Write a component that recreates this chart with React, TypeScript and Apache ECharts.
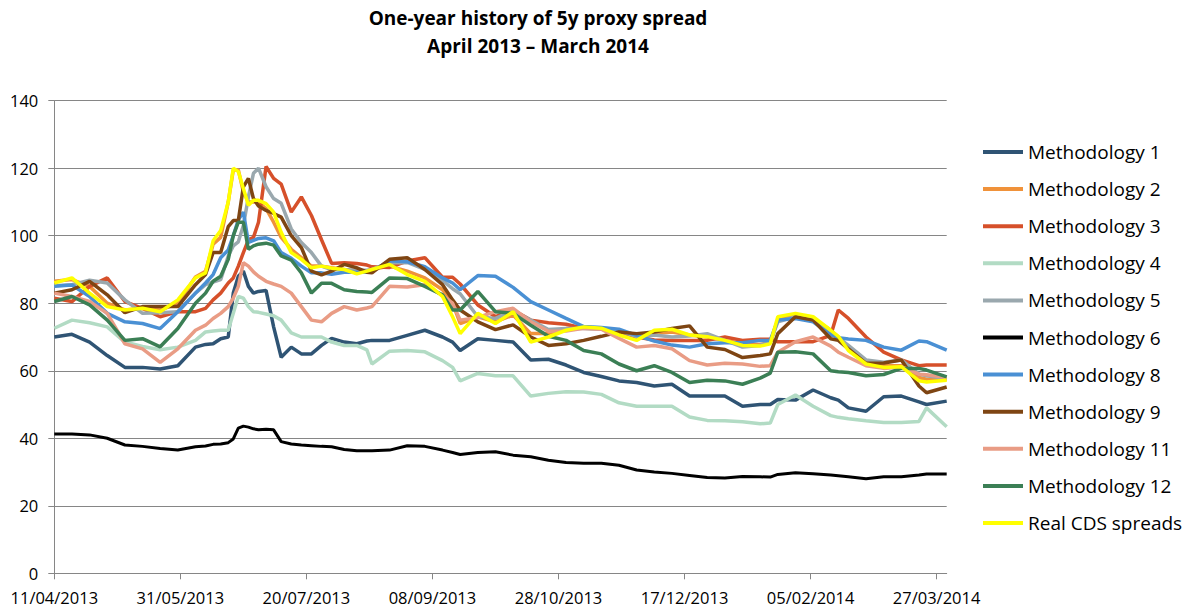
import React, { useEffect, useRef } from "react";
import * as echarts from "echarts";

// day offsets from 11/04/2013
const dayOffsets = [
  0, 7, 14, 21, 28, 35, 42, 49,
  56, 60, 63, 66, 69, 71, 73, 75, 77, 79,
  81, 84, 87, 90, 94, 98, 102, 106, 110, 115,
  120, 124, 126, 133, 140, 147, 154, 158, 161, 168,
  175, 182, 189, 196, 203, 210, 217, 224, 231, 238,
  245, 252, 259, 266, 273, 280, 284, 287, 294, 301,
  308, 311, 315, 322, 329, 336, 343, 346, 354,
];

const xTickDays = [0, 50, 100, 150, 200, 250, 300, 350];
const xTickLabels = ["11/04/2013", "31/05/2013", "20/07/2013", "08/09/2013", "28/10/2013", "17/12/2013", "05/02/2014", "27/03/2014"];

const meth1 = [
  70, 70.8, 68.5, 64.5, 61, 61, 60.5, 61.5,
  67, 67.8, 68, 69.5, 70, 83, 88, 89.5, 85, 83,
  83.5, 83.8, 73, 64, 67, 65, 65, 67.5, 69.6, 68.5,
  68, 68.8, 69, 69, 70.5, 72, 70, 68.5, 66, 69.5,
  69, 68.5, 63.2, 63.4, 61.7, 59.5, 58.3, 57, 56.5, 55.5,
  56, 52.5, 52.5, 52.5, 49.5, 50, 50, 51.5, 51.3, 54.3,
  52, 51.3, 49, 48, 52.3, 52.5, 50.8, 50, 51,
];
const meth2 = [
  86.5, 87, 85, 80, 78, 78.5, 78, 80,
  87.8, 89.5, 97.5, 99.5, 110, 119.5, 119.5, 113, 110, 110,
  110, 108, 104, 99.5, 96, 93.5, 91, 91, 90.5, 90,
  89.5, 89.5, 90, 91, 89.5, 87.5, 84, 80, 74, 76,
  74.5, 76.5, 71, 71, 72.5, 73, 72.5, 71.5, 70, 71,
  71.5, 70.6, 70, 69, 68, 67.8, 68.3, 75, 76.5, 75.5,
  72, 70, 66.5, 62.5, 61.5, 61.5, 58, 57.5, 57.5,
];
const meth3 = [
  81.5, 80.5, 85, 87.5, 80.5, 78.5, 76, 77.5,
  77.5, 78.5, 81, 83, 86, 87.5, 91, 95, 98.8, 99.5,
  104, 120.5, 117, 115.3, 107, 111.5, 106, 98.8, 91.8, 92,
  91.8, 91.3, 90.8, 90.6, 92.5, 93.5, 87.7, 87.7, 85.7, 79.5,
  76, 78, 75, 74.2, 73.8, 72.6, 72.5, 71.8, 70, 69.1,
  69, 69, 69, 70, 69, 69.3, 69.3, 68.6, 68.6, 68.6,
  70.5, 78, 75.5, 70, 65.5, 63.2, 61.5, 61.7, 61.7,
];
const meth4 = [
  72.6, 75, 74.2, 73, 68.5, 67.2, 66.2, 67,
  69, 71.5, 71.8, 72, 72, 77, 82, 81.5, 79, 77.5,
  77.3, 76.8, 76.3, 75, 71.2, 70, 70, 70, 68.5, 67.5,
  67.5, 66.2, 62, 65.8, 66, 65.6, 63, 61, 57, 59.2,
  58.5, 58.5, 52.5, 53.3, 53.8, 53.7, 53, 50.5, 49.5, 49.5,
  49.5, 46.3, 45.3, 45.2, 44.9, 44.3, 44.5, 50, 52.8, 49.5,
  46.7, 46.2, 45.8, 45.2, 44.7, 44.7, 45, 49, 43.4,
];
const meth5 = [
  85.2, 85.5, 86.8, 86, 81, 77, 77.2, 77.5,
  83, 85.5, 86.3, 87, 94, 97, 98.2, 103, 111.5, 118.5,
  120, 114.5, 111, 109.6, 102, 98, 95, 91, 90, 89.9,
  89.8, 89.8, 90, 92, 92.1, 90, 86.7, 84.3, 82.8, 76,
  75.5, 77.8, 75, 72.2, 72.5, 72.5, 72.3, 71.8, 70.1, 70.6,
  70, 70.3, 71, 69, 67, 67.5, 68.5, 74.5, 76, 75.3,
  71.5, 69.8, 67.5, 63.2, 62.5, 63.2, 59, 58.5, 57.7,
];
const meth6 = [
  41.3, 41.3, 41, 40, 38, 37.6, 37, 36.5,
  37.5, 37.7, 38.2, 38.3, 38.7, 39.8, 43, 43.6, 43.3, 42.8,
  42.5, 42.7, 42.5, 39, 38.3, 38, 37.8, 37.6, 37.5, 36.7,
  36.3, 36.3, 36.3, 36.5, 37.8, 37.6, 36.5, 35.8, 35.2, 35.8,
  36, 35, 34.5, 33.5, 32.8, 32.6, 32.6, 32, 30.6, 30,
  29.6, 29, 28.4, 28.2, 28.7, 28.6, 28.5, 29.3, 29.8, 29.5,
  29.1, 28.9, 28.6, 28, 28.6, 28.6, 29.1, 29.4, 29.4,
];
const meth8 = [
  85, 85.4, 82, 77, 74.5, 74, 72.5, 77.5,
  83, 86, 88.5, 93.5, 95.8, 100, 104.7, 107, 98, 98.6,
  99.2, 99.4, 98.5, 95, 93.3, 91, 89, 89, 88.6, 89.2,
  89.2, 89.2, 89.5, 92.6, 92.3, 90.8, 87.5, 86, 84, 88.2,
  88, 84.7, 80.5, 78, 75.5, 73.1, 72.8, 72.3, 70.5, 68.8,
  67.6, 67, 68, 68.3, 68.3, 69, 69, 75, 75.5, 74.5,
  70.7, 69.8, 69.4, 69, 67, 66.1, 68.8, 68.6, 66.1,
];
const meth9 = [
  83, 84, 86.5, 82.5, 77.2, 79, 79, 79,
  85.5, 88.5, 95, 95, 102.7, 104.5, 104.5, 114.5, 117, 111,
  108.8, 107.5, 106.6, 105.5, 100, 96.5, 89.5, 88.4, 89.5, 91.5,
  90.5, 89.2, 89, 93, 93.5, 90, 85.5, 81, 78, 74.5,
  72.2, 73.6, 70, 67.5, 68, 69, 70.2, 71.5, 71, 71.5,
  72.5, 73.3, 67, 66.3, 63.9, 64.5, 65, 71, 76, 75,
  69.5, 69, 66.5, 62.2, 62.3, 63.2, 55.5, 53.5, 55.2,
];
const meth11 = [
  83, 82, 80.5, 77, 68, 66.5, 62.5, 66.5,
  72, 73.5, 75.5, 77, 79, 81.5, 85, 92, 91, 89.3,
  88, 86.5, 85.7, 85, 83, 79, 75, 74.5, 77, 79,
  78, 78.6, 79, 85, 84.8, 85.5, 82.3, 80, 75, 75.8,
  77.5, 78.5, 74.5, 71.7, 71.8, 72.6, 72.3, 69.6, 67, 67.5,
  66.5, 63, 61.7, 62.2, 62, 61.3, 61.5, 65.5, 68.6, 70,
  67.3, 65.5, 64, 61.5, 60.7, 61.2, 59, 58.8, 58,
];
const meth12 = [
  80.5, 82, 79.5, 75, 69, 69.5, 67.1, 72.5,
  80, 83, 86.5, 88, 93, 100, 104, 104, 96, 97,
  97.5, 97.8, 97.2, 94, 92.8, 89, 83, 85.9, 85.9, 84,
  83.5, 83.3, 83.2, 87.5, 87.3, 85, 82.5, 78, 78, 83.5,
  77.5, 77, 73.5, 70.2, 69, 66, 65, 62, 60, 61.5,
  59.5, 56.5, 57.2, 57, 56, 57.8, 59.3, 65.5, 65.6, 65,
  60, 59.7, 59.5, 58.5, 58.9, 60.7, 60.7, 60.2, 58.2,
];
const realCds = [
  86, 87.5, 83, 79, 78, 78.5, 77.5, 81,
  87.5, 89, 98.5, 101.5, 110, 120, 119, 114, 109, 110.5,
  110.5, 109.5, 107, 101, 95, 93, 90.5, 91, 90.4, 90,
  88.7, 89.5, 90, 91.5, 88.5, 86.5, 82, 76, 71, 77,
  74, 77.5, 68.5, 70, 72, 73, 72.6, 70.6, 69, 72,
  72.3, 70.6, 70.1, 69, 67.5, 67.3, 68, 76, 77, 76,
  72, 70.2, 66, 62, 61, 61.2, 57, 56.7, 57.2,
];

const seriesNames = [
  "Methodology 1", "Methodology 2", "Methodology 3", "Methodology 4", "Methodology 5",
  "Methodology 6", "Methodology 8", "Methodology 9", "Methodology 11", "Methodology 12",
  "Real CDS spreads",
];
const seriesValues = [meth1, meth2, meth3, meth4, meth5, meth6, meth8, meth9, meth11, meth12, realCds];
const seriesColors = [
  "#2F5474", "#F0923A", "#D6502A", "#B2DBC4", "#9AA8AE",
  "#000000", "#4A90D4", "#7E4513", "#E99C85", "#3B7F55", "#FFFF00",
];

export default function App() {
  const ref = useRef<HTMLDivElement>(null);
  useEffect(() => {
    document.body.style.margin = "0";
    const chart = echarts.init(ref.current!, null, { renderer: "svg" });
    const font = "'Open Sans', sans-serif";
    chart.setOption({
      animation: false,
      backgroundColor: "#ffffff",
      title: {
        text: "One-year history of 5y proxy spread\nApril 2013 \u2013 March 2014",
        left: 533,
        top: -1,
        textAlign: "center",
        textStyle: { fontFamily: font, fontWeight: "bold", fontSize: 19, lineHeight: 28, color: "#000" },
      },
      grid: { left: 54.3, right: 249.3, top: 100.7, bottom: 38.7, containLabel: false },
      legend: {
        orient: "vertical",
        left: 978,
        top: 137,
        icon: "rect",
        itemWidth: 40,
        itemHeight: 4,
        itemGap: 17.1,
        data: seriesNames,
        textStyle: { fontFamily: font, fontSize: 19, color: "#000", lineHeight: 20 },
      },
      xAxis: {
        type: "value",
        min: 0,
        max: 354,
        interval: 50,
        splitLine: { show: false },
        axisLine: { show: true, lineStyle: { color: "#868686", width: 1 } },
        axisTick: { show: true, length: 6, lineStyle: { color: "#868686" }, customValues: xTickDays },
        axisLabel: {
          customValues: xTickDays,
          margin: 16,
          fontFamily: font,
          fontSize: 16.5,
          color: "#000",
          formatter: (v: number) => {
            const i = xTickDays.indexOf(Math.round(v));
            return i >= 0 ? xTickLabels[i] : "";
          },
        },
      },
      yAxis: {
        type: "value",
        min: 0,
        max: 140,
        interval: 20,
        axisLine: { show: true, lineStyle: { color: "#868686", width: 1 } },
        axisTick: { show: true, length: 6, lineStyle: { color: "#868686" } },
        splitLine: { show: true, lineStyle: { color: "#868686", width: 1 } },
        axisLabel: { margin: 16, fontFamily: font, fontSize: 16.5, color: "#000" },
      },
      series: seriesNames.map((name, k) => ({
        name,
        type: "line",
        symbol: "none",
        smooth: false,
        lineStyle: { color: seriesColors[k], width: k === 5 ? 3 : 3.5 },
        itemStyle: { color: seriesColors[k] },
        data: dayOffsets.map((d, i) => [d, seriesValues[k][i]]),
      })),
    });
    return () => chart.dispose();
  }, []);
  return <div ref={ref} style={{ width: 1196, height: 612 }} />;
}
